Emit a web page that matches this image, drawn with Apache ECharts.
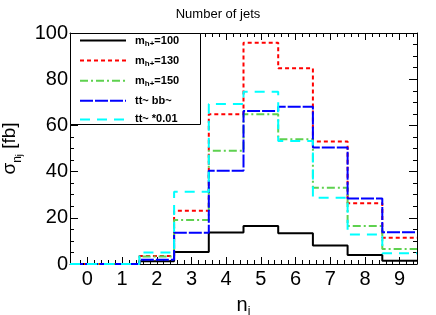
<!DOCTYPE html>
<html><head><meta charset="utf-8">
<script src="https://cdn.jsdelivr.net/npm/echarts@6/dist/echarts.min.js"></script>
<style>html,body{margin:0;padding:0;background:#fff}#c{width:436px;height:315px}</style>
</head><body><div id="c"></div>
<script>
// ---- data ----
const binCenters = [0, 1, 2, 3, 4, 5, 6, 7, 8, 9];
const xTickLabels = ['0', '1', '2', '3', '4', '5', '6', '7', '8', '9'];
const yTickValues = [0, 20, 40, 60, 80, 100];
const seriesNames = ['mh+=100', 'mh+=130', 'mh+=150', 'tt~ bb~', 'tt~ *0.01'];
const mh100 = [0, 0, 1.2, 5.2, 13.6, 16.5, 13.3, 8.0, 3.9, 1.4];
const mh130 = [0, 0, 3.5, 23.0, 64.8, 95.8, 84.7, 53.0, 26.3, 11.4];
const mh150 = [0, 0, 3.2, 19.0, 49.0, 64.8, 54.0, 33.0, 16.5, 6.5];
const ttbb  = [0, 0, 1.8, 13.5, 40.4, 66.2, 68.1, 50.4, 28.4, 13.7];
const ttScaled = [0, 0, 5.0, 31.3, 69.3, 74.6, 53.2, 28.7, 12.8, 4.6];

// histogram step points: left edge of each bin, plus right edge of last bin
function stepData(vals) {
  const pts = [];
  for (let i = 0; i < binCenters.length; i++) pts.push([binCenters[i] - 0.5, vals[i]]);
  const last = binCenters.length - 1;
  pts.push([binCenters[last] + 0.5, vals[last]]);
  return pts;
}
const xMin = binCenters[0] - 0.5, xMax = binCenters[binCenters.length - 1] + 0.5;
const majorX = binCenters.slice();
const minorX = [];
for (let k = Math.round(xMin * 5) + 1; k < Math.round(xMax * 5); k++) {
  if (k % 5 !== 0) minorX.push(k / 5);
}

const FONT = '"Liberation Sans", Arial, Helvetica, sans-serif';
const chart = echarts.init(document.getElementById('c'), null, {renderer: 'canvas'});

function xAx(pos, ticks, len, showLine, showLabel, name) {
  return {
    type: 'value', position: pos, min: xMin, max: xMax, gridIndex: 0,
    axisLine: {show: showLine, onZero: false, lineStyle: {color: '#000', width: 1}},
    splitLine: {show: false},
    axisTick: {show: true, inside: true, length: len, customValues: ticks, lineStyle: {color: '#000', width: 1}},
    axisLabel: showLabel ? {show: true, customValues: majorX, formatter: v => xTickLabels[binCenters.indexOf(Math.round(v))], color: '#000', fontFamily: FONT, fontSize: 20, margin: 5} : {show: false},
    name: name || '', nameLocation: 'middle', nameGap: 28,
    nameTextStyle: {rich: {a: {fontFamily: FONT, fontSize: 20, color: '#000', lineHeight: 26, verticalAlign: 'middle'},
                           s: {fontFamily: FONT, fontSize: 12, color: '#000', lineHeight: 12, verticalAlign: 'bottom'}}}
  };
}
function yAx(pos, showLabel, name) {
  return {
    type: 'value', position: pos, min: 0, max: 100, interval: 20,
    axisLine: {show: true, onZero: false, lineStyle: {color: '#000', width: 1}},
    splitLine: {show: false},
    axisTick: {show: true, inside: true, length: 8, lineStyle: {color: '#000'}},
    minorTick: {show: true, splitNumber: 4, length: 4, lineStyle: {color: '#000'}},
    axisLabel: showLabel ? {show: true, color: '#000', fontFamily: FONT, fontSize: 20, margin: 2,
      formatter: v => (yTickValues.indexOf(v) >= 0 ? String(v) : '')} : {show: false},
    name: name || '', nameLocation: 'middle', nameGap: 46, nameRotate: 90,
    nameTextStyle: {rich: {a: {fontFamily: FONT, fontSize: 19, color: '#000', lineHeight: 28, verticalAlign: 'middle'},
                           s: {fontFamily: FONT, fontSize: 12, color: '#000', lineHeight: 14, verticalAlign: 'bottom'},
                           t: {fontFamily: FONT, fontSize: 9, color: '#000', lineHeight: 8, verticalAlign: 'bottom'}}}
  };
}

const styles = [
  {color: '#000000', type: 'solid'},
  {color: '#ff0000', type: [4, 3]},
  {color: '#5ed14f', type: [8, 3, 2, 3]},
  {color: '#0000ff', type: [13, 2]},
  {color: '#00ffff', type: [10, 7]}
];
const allVals = [mh100, mh130, mh150, ttbb, ttScaled];

const legendRich = {
  m: {fontFamily: FONT, fontSize: 11, fontWeight: 'bold', color: '#000', lineHeight: 14, verticalAlign: 'middle'},
  s: {fontFamily: FONT, fontSize: 8, fontWeight: 'bold', color: '#000', lineHeight: 8, verticalAlign: 'bottom'}
};

chart.setOption({
  animation: false,
  backgroundColor: '#fff',
  title: {text: 'Number of jets', left: 'center', top: 3,
    textStyle: {fontFamily: FONT, fontSize: 13, fontWeight: 'normal', color: '#000'}},
  grid: {left: 70, right: 19, top: 33, bottom: 51, containLabel: false, outerBoundsMode: 'none'},
  xAxis: [
    xAx('bottom', majorX, 7, true, true, '{a|n}{s|j}'),
    xAx('bottom', minorX, 4, false, false),
    xAx('top', majorX, 7, true, false),
    xAx('top', minorX, 4, false, false)
  ],
  yAxis: [
    yAx('left', true, '{a|σ}{s|n}{t|j}{a| [fb]}'),
    yAx('right', false)
  ],
  graphic: [{type: 'rect', left: 70, top: 33, z: 100,
    shape: {width: 130, height: 91}, style: {fill: '#fff', stroke: '#000', lineWidth: 1}}],
  legend: {
    orient: 'vertical', left: 79, top: 35, z: 101, itemWidth: 46, itemHeight: 10, itemGap: 7.6,
    padding: 0,
    data: seriesNames,
    itemStyle: {color: 'rgba(0,0,0,0)', borderWidth: 0, opacity: 0},
    formatter: function (n) {
      if (n.indexOf('mh+=') === 0) return '{m|m}{s|h+}{m|' + n.slice(3) + '}';
      return '{m|' + n + '}';
    },
    textStyle: {rich: legendRich, padding: [0, 0, 0, 4]}
  },
  series: allVals.map((vals, i) => ({
    name: seriesNames[i], type: 'line', step: 'end', symbol: 'none', showSymbol: false,
    xAxisIndex: 0, yAxisIndex: 0, clip: true, z: 2 + i,
    data: stepData(vals),
    lineStyle: {color: styles[i].color, width: 2, type: styles[i].type},
    itemStyle: {color: styles[i].color}
  }))
});
</script></body></html>
